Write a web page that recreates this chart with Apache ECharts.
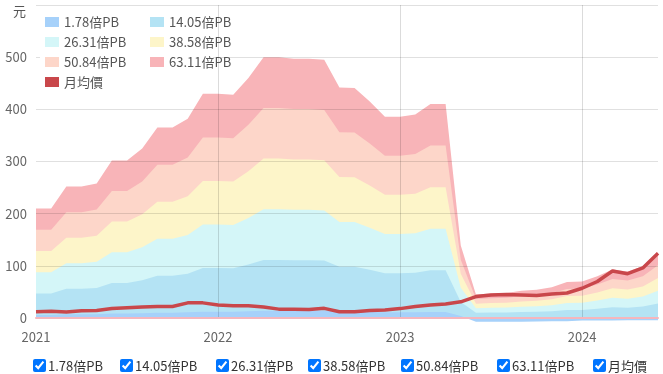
<!DOCTYPE html>
<html><head><meta charset="utf-8">
<script src="https://cdn.jsdelivr.net/npm/echarts@6/dist/echarts.min.js"></script>
<style>
html,body{margin:0;padding:0;background:#fff;}
#wrap{position:relative;width:663px;height:374px;overflow:hidden;}
#chart{position:absolute;left:0;top:0;width:663px;height:374px;}
#legend2 label{position:absolute;top:356px;height:18px;display:flex;align-items:center;font-size:13px;font-family:'Noto Sans CJK TC','Noto Sans CJK SC',sans-serif;color:#333;white-space:nowrap;cursor:pointer;}
#legend2 input{margin:0 2px 0 0;width:13px;height:13px;}
</style>
</head>
<body>
<div id="wrap">
<div id="chart"></div>
<div id="legend2"></div>
</div>
<script>
const months = ['2021-01','2021-02','2021-03','2021-04','2021-05','2021-06','2021-07','2021-08','2021-09','2021-10','2021-11','2021-12',
'2022-01','2022-02','2022-03','2022-04','2022-05','2022-06','2022-07','2022-08','2022-09','2022-10','2022-11','2022-12',
'2023-01','2023-02','2023-03','2023-04','2023-05','2023-06','2023-07','2023-08','2023-09','2023-10','2023-11','2023-12',
'2024-01','2024-02','2024-03','2024-04','2024-05','2024-06'];

const seriesNames = ['1.78倍PB','14.05倍PB','26.31倍PB','38.58倍PB','50.84倍PB','63.11倍PB','月均價'];
const yTicks = [0,100,200,300,400,500,600];

const pb178 = [5.9,5.9,7.1,7.1,7.3,8.5,8.5,9.2,10.3,10.3,10.8,12.1,12.1,12.1,13.0,14.1,14.1,14.0,14.0,14.0,12.5,12.4,11.7,10.9,10.9,11.0,11.6,11.6,3.9,-7,-7,-7,-7,-6.5,-6,-6,-5,-5,-5,-4.5,-4.5,-4.5];
const pb1405 = [46.8,46.8,56.1,56.1,57.5,67.3,67.3,72.4,81.2,81.2,85.0,95.7,95.7,95.3,102.4,111.3,111.3,110.7,110.7,110.2,98.4,98.2,92.4,86.0,86.0,86.8,91.3,91.3,30.9,10.0,10.5,10.7,11.5,12.1,13.1,15.3,15.5,17.8,20.7,19.8,22.0,27.9];
const pb2631 = [87.6,87.6,105.0,105.0,107.6,126.0,126.0,135.5,152.1,152.1,159.2,179.2,179.2,178.4,191.8,208.4,208.4,207.3,207.3,206.3,184.2,183.9,173.1,161.0,161.0,162.6,171.0,171.0,57.9,18.8,19.6,20.0,21.6,22.6,24.5,28.7,29.1,33.4,38.8,37.1,41.3,52.2];
const pb3858 = [128.5,128.5,153.9,153.9,157.8,184.8,184.8,198.7,223.0,223.0,233.4,262.7,262.7,261.6,281.3,305.6,305.6,304.0,304.0,302.5,270.1,269.7,253.9,236.1,236.1,238.4,250.8,250.8,84.9,27.5,28.7,29.3,31.6,33.2,35.9,42.1,42.8,48.9,56.9,54.4,60.5,76.6];
const pb5084 = [169.3,169.3,202.9,202.9,207.9,243.5,243.5,261.8,293.9,293.9,307.6,346.2,346.2,344.7,370.6,402.7,402.7,400.6,400.6,398.6,355.9,355.4,334.5,311.1,311.1,314.2,330.5,330.5,111.8,36.2,37.9,38.6,41.7,43.7,47.3,55.4,56.4,64.4,74.9,71.7,79.8,100.9];
const pb6311 = [210,210,252,252,258,302,302,325,365,365,382,430,430,428,460,500,500,497,497,495,442,441,415,386,386,390,410,410,139,45,47,48,52,54,59,69,70,80,93,89,99,126];
const price = [12,13,11.5,14,14.5,18,19.5,21,22,22,29,29,25,23.5,23.5,21,17,17,16.5,18.5,12,12,14.5,15.5,18,22,25,27,31,41,44,45,44,43,46,48,57,70,90,85,96,124];

const colors = ['#a6d1fa','#b4e3f4','#d4f6f8','#fdf5c9','#fdd6c9','#f8b4b8','#c9474b'];
const font = "'Noto Sans CJK TC','Noto Sans CJK SC',sans-serif";

function area(i, data) {
  return {
    name: seriesNames[i], type: 'line', data: data, z: 1 + (5 - i) * 0.1,
    symbol: 'none', showSymbol: false, silent: true,
    lineStyle: {width: 0, opacity: 0},
    itemStyle: {color: colors[i]},
    areaStyle: {color: colors[i], opacity: 1},
    emphasis: {disabled: true},
    clip: i !== 0
  };
}

const chart = echarts.init(document.getElementById('chart'), null, {renderer: 'canvas'});
chart.setOption({
  animation: false,
  textStyle: {fontFamily: font},
  grid: {left: 36, right: 5, top: 5, bottom: 56, outerBoundsMode: 'none'},
  graphic: {elements: [{type: 'rect', z: 4, silent: true, shape: {x: 40, y: 9, width: 173, height: 84}, style: {fill: '#fff'}}]},
  legend: [
    {data: [seriesNames[0], seriesNames[2], seriesNames[4], seriesNames[6]], orient: 'vertical', left: 45, top: 15, padding: 0, itemGap: 6, itemWidth: 14, itemHeight: 10, icon: 'rect', z: 5,
     textStyle: {fontSize: 13, color: '#555', lineHeight: 14, fontFamily: font}},
    {data: [seriesNames[1], seriesNames[3], seriesNames[5]], orient: 'vertical', left: 150, top: 15, padding: 0, itemGap: 6, itemWidth: 14, itemHeight: 10, icon: 'rect', z: 5,
     textStyle: {fontSize: 13, color: '#555', lineHeight: 14, fontFamily: font}}
  ],
  xAxis: {
    type: 'category', data: months, boundaryGap: false, z: 2,
    axisLine: {show: true, lineStyle: {color: '#f5b6bd', width: 2}},
    axisTick: {show: false},
    axisLabel: {interval: (idx) => idx % 12 === 0, formatter: (v) => v.slice(0, 4), color: '#666', fontSize: 13, margin: 13, fontFamily: font},
    splitLine: {show: true, interval: (idx) => idx % 12 === 0 && idx > 0, lineStyle: {color: 'rgba(0,0,0,0.14)', width: 1}}
  },
  yAxis: {
    type: 'value', min: yTicks[0], max: yTicks[yTicks.length - 1], interval: yTicks[1] - yTicks[0], z: 2,
    name: '元', nameLocation: 'end', nameGap: -6,
    nameTextStyle: {align: 'right', verticalAlign: 'middle', padding: [0, 10, 0, 0], color: '#555', fontSize: 13, fontFamily: font},
    axisLine: {show: false}, axisTick: {show: false},
    axisLabel: {showMaxLabel: false, color: '#666', fontSize: 13, margin: 9, fontFamily: font},
    splitLine: {lineStyle: {color: 'rgba(0,0,0,0.12)', width: 1}}
  },
  series: [
    area(0, pb178), area(1, pb1405), area(2, pb2631), area(3, pb3858), area(4, pb5084), area(5, pb6311),
    {name: seriesNames[6], type: 'line', data: price, z: 3, symbol: 'none', showSymbol: false,
     lineStyle: {width: 3.5, color: colors[6]}, itemStyle: {color: colors[6]}, emphasis: {disabled: true}}
  ]
});

const lefts = [33, 120, 216, 308, 401, 497, 593];
const lg = document.getElementById('legend2');
seriesNames.forEach((n, i) => {
  const lab = document.createElement('label');
  lab.style.left = lefts[i] + 'px';
  const cb = document.createElement('input');
  cb.type = 'checkbox'; cb.checked = true;
  cb.addEventListener('change', () => chart.dispatchAction({type: 'legendToggleSelect', name: n}));
  lab.appendChild(cb);
  lab.appendChild(document.createTextNode(n));
  lg.appendChild(lab);
});
</script>
</body></html>
